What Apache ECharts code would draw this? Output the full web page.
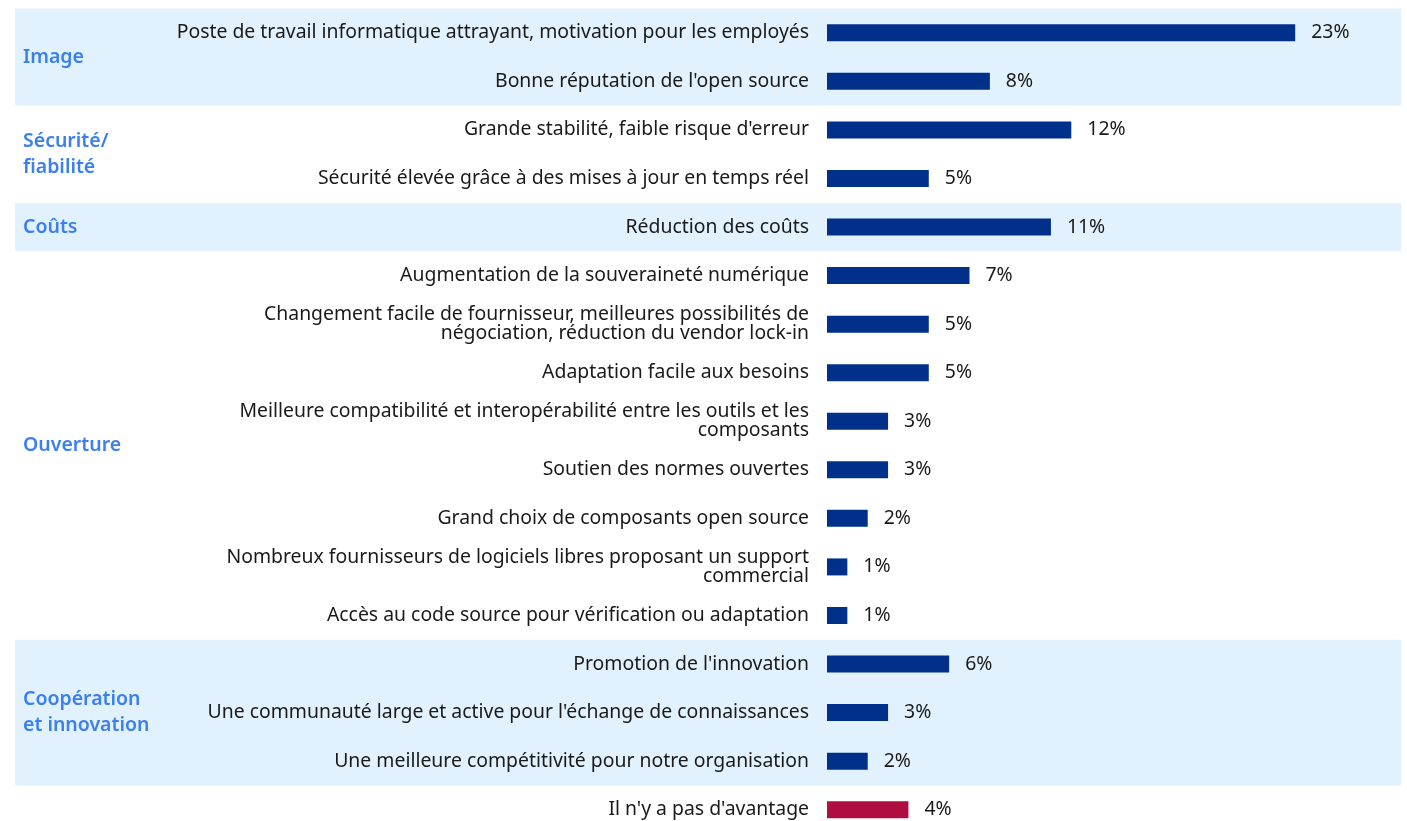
<!DOCTYPE html>
<html>
<head>
<meta charset="utf-8">
<script src="https://cdn.jsdelivr.net/npm/echarts@6/dist/echarts.min.js"></script>
<style>
  html, body { margin: 0; padding: 0; background: #fff; overflow: hidden; }
  #chart { width: 1407px; height: 850px; }
</style>
</head>
<body>
<div id="chart"></div>
<script>
// answers, in display order
var categories = [
  "Poste de travail informatique attrayant, motivation pour les employés",
  "Bonne réputation de l'open source",
  "Grande stabilité, faible risque d'erreur",
  "Sécurité élevée grâce à des mises à jour en temps réel",
  "Réduction des coûts",
  "Augmentation de la souveraineté numérique",
  "Changement facile de fournisseur, meilleures possibilités de\nnégociation, réduction du vendor lock-in",
  "Adaptation facile aux besoins",
  "Meilleure compatibilité et interopérabilité entre les outils et les\ncomposants",
  "Soutien des normes ouvertes",
  "Grand choix de composants open source",
  "Nombreux fournisseurs de logiciels libres proposant un support\ncommercial",
  "Accès au code source pour vérification ou adaptation",
  "Promotion de l'innovation",
  "Une communauté large et active pour l'échange de connaissances",
  "Une meilleure compétitivité pour notre organisation",
  "Il n'y a pas d'avantage"
];
var values = [23, 8, 12, 5, 11, 7, 5, 5, 3, 3, 2, 1, 1, 6, 3, 2, 4];

// groups: first row, last row, label, shaded
var groupNames = ["Image", "Sécurité/\nfiabilité", "Coûts", "Ouverture", "Coopération\net innovation"];
var groupStart = [0, 2, 4, 5, 13];
var groupEnd = [1, 3, 4, 12, 15];
var groupShaded = [true, false, true, false, true];

var NAVY = '#00308a';
var RED = '#ae0e40';
var BAND = '#e1f1fe';
var GROUP_TXT = '#3c80f0';

var chart = echarts.init(document.getElementById('chart'));

var groupData = groupNames.map(function (n, i) {
  return [groupStart[i], groupEnd[i], n, groupShaded[i] ? 1 : 0];
});

var barData = values.map(function (v, i) {
  return {
    value: v,
    itemStyle: { color: i === values.length - 1 ? RED : NAVY }
  };
});

var option = {
  animation: false,
  grid: { left: 827, top: 8.5, width: 570, height: 825.5, containLabel: false },
  xAxis: {
    type: 'value', min: 0, max: 28,
    show: false
  },
  yAxis: {
    type: 'category',
    inverse: true,
    data: categories,
    axisLine: { show: false },
    axisTick: { show: false },
    axisLabel: {
      margin: 18,
      color: '#1a1a1a',
      fontFamily: 'Noto Sans',
      fontSize: 19.4,
      lineHeight: 19,
      align: 'right'
    }
  },
  series: [{
    type: 'custom',
    z: -1,
    silent: true,
    data: groupData,
    encode: { y: 0 },
    renderItem: function (params, api) {
      var s = api.value(0), e = api.value(1);
      var h = api.size([0, 1])[1];
      var y0 = api.coord([0, s])[1] - h / 2;
      var y1 = api.coord([0, e])[1] + h / 2;
      var children = [];
      if (api.value(3)) {
        children.push({
          type: 'rect',
          shape: { x: 15, y: y0, width: 1386, height: y1 - y0 },
          style: { fill: BAND }
        });
      }
      children.push({
        type: 'text',
        style: {
          x: 23, y: (y0 + y1) / 2,
          text: groupNames[params.dataIndex],
          fill: GROUP_TXT,
          font: '600 19.5px "Noto Sans"',
          lineHeight: 26,
          verticalAlign: 'middle',
          align: 'left'
        }
      });
      return { type: 'group', children: children };
    }
  }, {
    type: 'bar',
    data: barData,
    barWidth: 17,
    label: {
      show: true,
      position: 'right',
      distance: 16,
      formatter: '{c}%',
      color: '#1a1a1a',
      fontFamily: 'Noto Sans',
      fontSize: 19.4
    }
  }]
};
chart.setOption(option);
</script>
</body>
</html>
